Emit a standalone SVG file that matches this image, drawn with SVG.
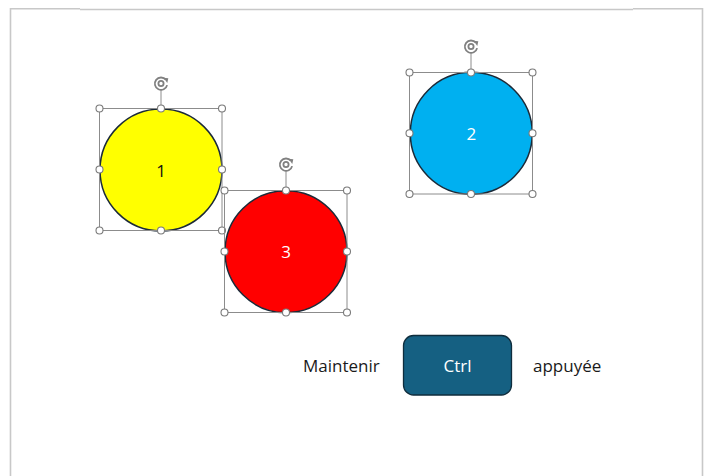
<svg xmlns="http://www.w3.org/2000/svg" width="707" height="476" viewBox="0 0 707 476">
<defs>
<style>
.frame{fill:none;stroke:#c8c8c8;stroke-width:1.6}
.shape{stroke:#1b2a38;stroke-width:1.5}
.sel{fill:none;stroke:#8c8c8c;stroke-width:1}
.h{fill:#fff;stroke:#7a7a7a;stroke-width:1.1}
.rot{fill:none;stroke:#808080;stroke-width:1.8}
.lbl{font-family:"Open Sans","Liberation Sans",sans-serif;font-size:17px;text-anchor:middle}
.txt{font-family:"Open Sans","Liberation Sans",sans-serif;font-size:17px;fill:#1a1a1a}
</style>
<g id="rothandle">
<line x1="0" y1="6.5" x2="0" y2="25" class="sel"/>
<path d="M4.8,-3.8 A6.2,6.2 0 1 0 6.1,1.6" class="rot"/>
<path d="M2.6,-5.8 L7.3,-5.2 L6.3,-0.6 Z" fill="#808080"/>
<circle cx="0" cy="0" r="2.6" class="rot" stroke-width="1.3"/>
</g>
</defs>
<rect width="707" height="476" fill="#fff"/>
<path class="frame" d="M10.5,476 V8.8 H80 M80,9.5 H633 M633,8.8 H702.5 V476"/>

<g id="node-1">
<circle cx="161" cy="170" r="61" fill="#ffff00" class="shape"/>
<text x="161" y="176.5" class="lbl" fill="#111">1</text>
<rect x="99.5" y="108.5" width="122.5" height="122" class="sel"/>
<use href="#rothandle" x="161" y="83.5"/>
<circle cx="99.5" cy="108.5" r="3.5" class="h"/><circle cx="161" cy="108.5" r="3.5" class="h"/><circle cx="222" cy="108.5" r="3.5" class="h"/>
<circle cx="99.5" cy="169.5" r="3.5" class="h"/><circle cx="222" cy="169.5" r="3.5" class="h"/>
<circle cx="99.5" cy="230.5" r="3.5" class="h"/><circle cx="161" cy="230.5" r="3.5" class="h"/><circle cx="222" cy="230.5" r="3.5" class="h"/>
</g>

<g id="node-3">
<circle cx="286" cy="251.7" r="61" fill="#ff0000" class="shape"/>
<text x="286" y="258" class="lbl" fill="#fff">3</text>
<rect x="224.5" y="190.5" width="122.5" height="122" class="sel"/>
<use href="#rothandle" x="286" y="164.5"/>
<circle cx="224.5" cy="190.5" r="3.5" class="h"/><circle cx="286" cy="190.5" r="3.5" class="h"/><circle cx="347" cy="190.5" r="3.5" class="h"/>
<circle cx="224.5" cy="251.5" r="3.5" class="h"/><circle cx="347" cy="251.5" r="3.5" class="h"/>
<circle cx="224.5" cy="312.5" r="3.5" class="h"/><circle cx="286" cy="312.5" r="3.5" class="h"/><circle cx="347" cy="312.5" r="3.5" class="h"/>
</g>

<g id="node-2">
<circle cx="471.3" cy="133.3" r="61" fill="#00b0f0" class="shape"/>
<text x="471.3" y="139.5" class="lbl" fill="#fff">2</text>
<rect x="409.5" y="72.5" width="123" height="121.5" class="sel"/>
<use href="#rothandle" x="471" y="46.5"/>
<circle cx="409.5" cy="72.5" r="3.5" class="h"/><circle cx="471" cy="72.5" r="3.5" class="h"/><circle cx="532.5" cy="72.5" r="3.5" class="h"/>
<circle cx="409.5" cy="133.3" r="3.5" class="h"/><circle cx="532.5" cy="133.3" r="3.5" class="h"/>
<circle cx="409.5" cy="194" r="3.5" class="h"/><circle cx="471" cy="194" r="3.5" class="h"/><circle cx="532.5" cy="194" r="3.5" class="h"/>
</g>

<g id="label-maintenir">
<text x="303" y="372" class="txt">Maintenir</text>
</g>
<g id="node-ctrl">
<rect x="403.5" y="335.5" width="108" height="59.5" rx="10" fill="#156082" stroke="#0f2d3d" stroke-width="1.3"/>
<text x="457.5" y="372" class="lbl" fill="#fff">Ctrl</text>
</g>
<g id="label-appuyee">
<text x="533" y="372" class="txt">appuyée</text>
</g>
<g id="connectors"/>
</svg>
